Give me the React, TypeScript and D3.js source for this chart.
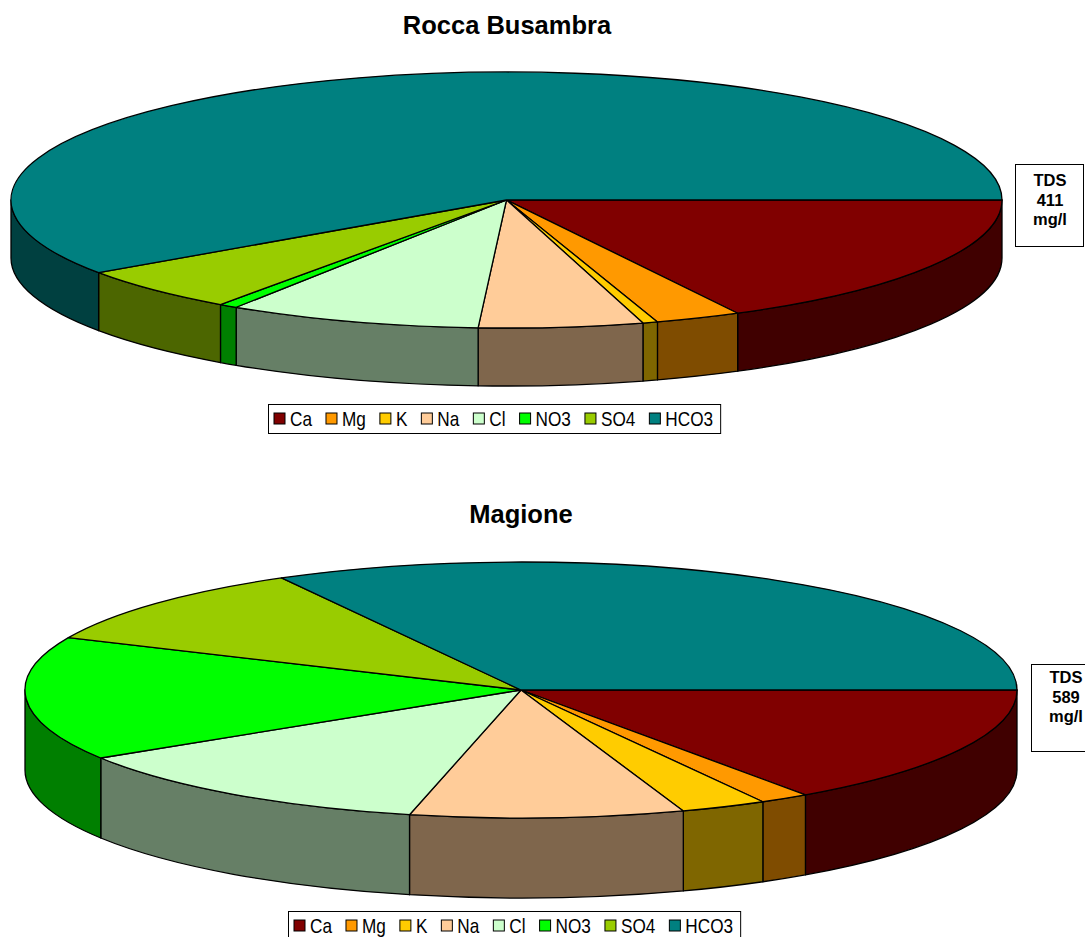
import React, { useEffect, useMemo } from "react";
import * as d3 from "d3";

// Major ion composition (mg/l) of two spring waters
const IONS = ["Ca", "Mg", "K", "Na", "Cl", "NO3", "SO4", "HCO3"];
const ION_COLORS = ["#800000", "#FF9900", "#FFCC00", "#FFCC99", "#CCFFCC", "#00FF00", "#99CC00", "#008080"];
const ROCCA_VALUES = [71, 11.5, 2, 22, 34, 2.5, 23, 245];
const MAGIONE_VALUES = [90, 9.5, 16.5, 52.5, 73.5, 92, 60.5, 194.5];
const ROCCA_TDS = 411;
const MAGIONE_TDS = 589;

const W = 1085;
const H = 937;
const FONT = "'Liberation Sans', Arial, Helvetica, sans-serif";
const LEGEND_FS = 20;
const LEGEND_SX = 0.86;

// side walls are drawn at half intensity of the slice colour
const shade = (c: string) => {
  const r = d3.rgb(c);
  return d3.rgb(Math.floor(r.r / 2), Math.floor(r.g / 2), Math.floor(r.b / 2)).formatHex();
};

type PieGeom = { cx: number; cy: number; rx: number; ry: number; depth: number };

function Pie3D({ values, g }: { values: number[]; g: PieGeom }) {
  const arcs = d3
    .pie<number>()
    .sort(null)
    .startAngle(Math.PI / 2)
    .endAngle(Math.PI / 2 + 2 * Math.PI)(values);

  const pt = (a: number, dy = 0): [number, number] => [
    g.cx + g.rx * Math.sin(a),
    g.cy - g.ry * Math.cos(a) + dy,
  ];

  const walls: React.ReactNode[] = [];
  const tops: React.ReactNode[] = [];
  const front0 = Math.PI / 2;
  const front1 = (3 * Math.PI) / 2;

  arcs.forEach((d, i) => {
    const color = ION_COLORS[i];
    const s = Math.max(d.startAngle, front0);
    const e = Math.min(d.endAngle, front1);
    if (e > s) {
      const [x0, y0] = pt(s);
      const [x1, y1] = pt(e);
      const [x1b, y1b] = pt(e, g.depth);
      const [x0b, y0b] = pt(s, g.depth);
      const path =
        `M${x0},${y0} A${g.rx},${g.ry} 0 0 1 ${x1},${y1} ` +
        `L${x1b},${y1b} A${g.rx},${g.ry} 0 0 0 ${x0b},${y0b} Z`;
      walls.push(
        <path key={`w${i}`} d={path} fill={shade(color)} stroke="#000" strokeWidth={1.3} strokeLinejoin="round" />
      );
    }
    const [ax, ay] = pt(d.startAngle);
    const [bx, by] = pt(d.endAngle);
    const large = d.endAngle - d.startAngle > Math.PI ? 1 : 0;
    const top =
      `M${g.cx},${g.cy} L${ax},${ay} A${g.rx},${g.ry} 0 ${large} 1 ${bx},${by} Z`;
    tops.push(
      <path key={`t${i}`} d={top} fill={color} stroke="#000" strokeWidth={1.3} strokeLinejoin="round" />
    );
  });

  return (
    <g>
      {walls}
      {tops}
    </g>
  );
}

function Legend({ x, y, h, widths }: { x: number; y: number; h: number; widths: number[] }) {
  const sq = 11;
  const items: React.ReactNode[] = [];
  let cx = x + 6;
  IONS.forEach((name, i) => {
    items.push(
      <g key={name}>
        <rect x={cx} y={y + h / 2 - sq / 2} width={sq} height={sq} fill={ION_COLORS[i]} stroke="#000" strokeWidth={1} />
        <text
          transform={`translate(${cx + sq + 5},${y + h / 2 + 7}) scale(${LEGEND_SX},1)`}
          fontSize={LEGEND_FS}
          fontFamily={FONT}
          fill="#000"
        >
          {name}
        </text>
      </g>
    );
    cx += sq + 5 + widths[i] + 14;
  });
  const totalW = cx - x - 14 + 7;
  return (
    <g>
      <rect x={x + 0.5} y={y + 0.5} width={totalW} height={h} fill="#fff" stroke="#000" strokeWidth={1} />
      {items}
    </g>
  );
}

function TdsBox({ x, y, w, h, tds, textTop }: { x: number; y: number; w: number; h: number; tds: number; textTop: number }) {
  const tx = x + 35;
  const lines = ["TDS", String(tds), "mg/l"];
  return (
    <g>
      <rect x={x + 0.5} y={y + 0.5} width={w} height={h} fill="#fff" stroke="#000" strokeWidth={1} />
      {lines.map((t, i) => (
        <text
          key={t}
          x={tx}
          y={y + textTop + i * 19.5}
          textAnchor="middle"
          fontSize={16.5}
          fontWeight="bold"
          fontFamily={FONT}
          fill="#000"
        >
          {t}
        </text>
      ))}
    </g>
  );
}

export default function App() {
  useEffect(() => {
    document.body.style.margin = "0";
    document.body.style.overflow = "hidden";
  }, []);

  const widths = useMemo(() => {
    const ctx = document.createElement("canvas").getContext("2d");
    if (!ctx) return IONS.map((n) => n.length * 10);
    ctx.font = `${LEGEND_FS}px ${FONT}`;
    return IONS.map((n) => ctx.measureText(n).width * LEGEND_SX);
  }, []);

  const topPie: PieGeom = { cx: 506.5, cy: 200, rx: 495.5, ry: 128, depth: 58 };
  const botPie: PieGeom = { cx: 521, cy: 690, rx: 496, ry: 128, depth: 80 };

  return (
    <svg width={W} height={H} style={{ position: "absolute", left: 0, top: 0, display: "block" }}>
      <rect width={W} height={H} fill="#fff" />
      <text x={507} y={34} textAnchor="middle" fontSize={25.5} fontWeight="bold" fontFamily={FONT}>
        Rocca Busambra
      </text>
      <Pie3D values={ROCCA_VALUES} g={topPie} />
      <TdsBox x={1015} y={164} w={68} h={82} tds={ROCCA_TDS} textTop={22} />
      <Legend x={268} y={404} h={29} widths={widths} />

      <text x={521} y={523} textAnchor="middle" fontSize={25.5} fontWeight="bold" fontFamily={FONT}>
        Magione
      </text>
      <Pie3D values={MAGIONE_VALUES} g={botPie} />
      <TdsBox x={1031} y={664} w={80} h={87} tds={MAGIONE_TDS} textTop={19} />
      <Legend x={288} y={911} h={29} widths={widths} />
    </svg>
  );
}
